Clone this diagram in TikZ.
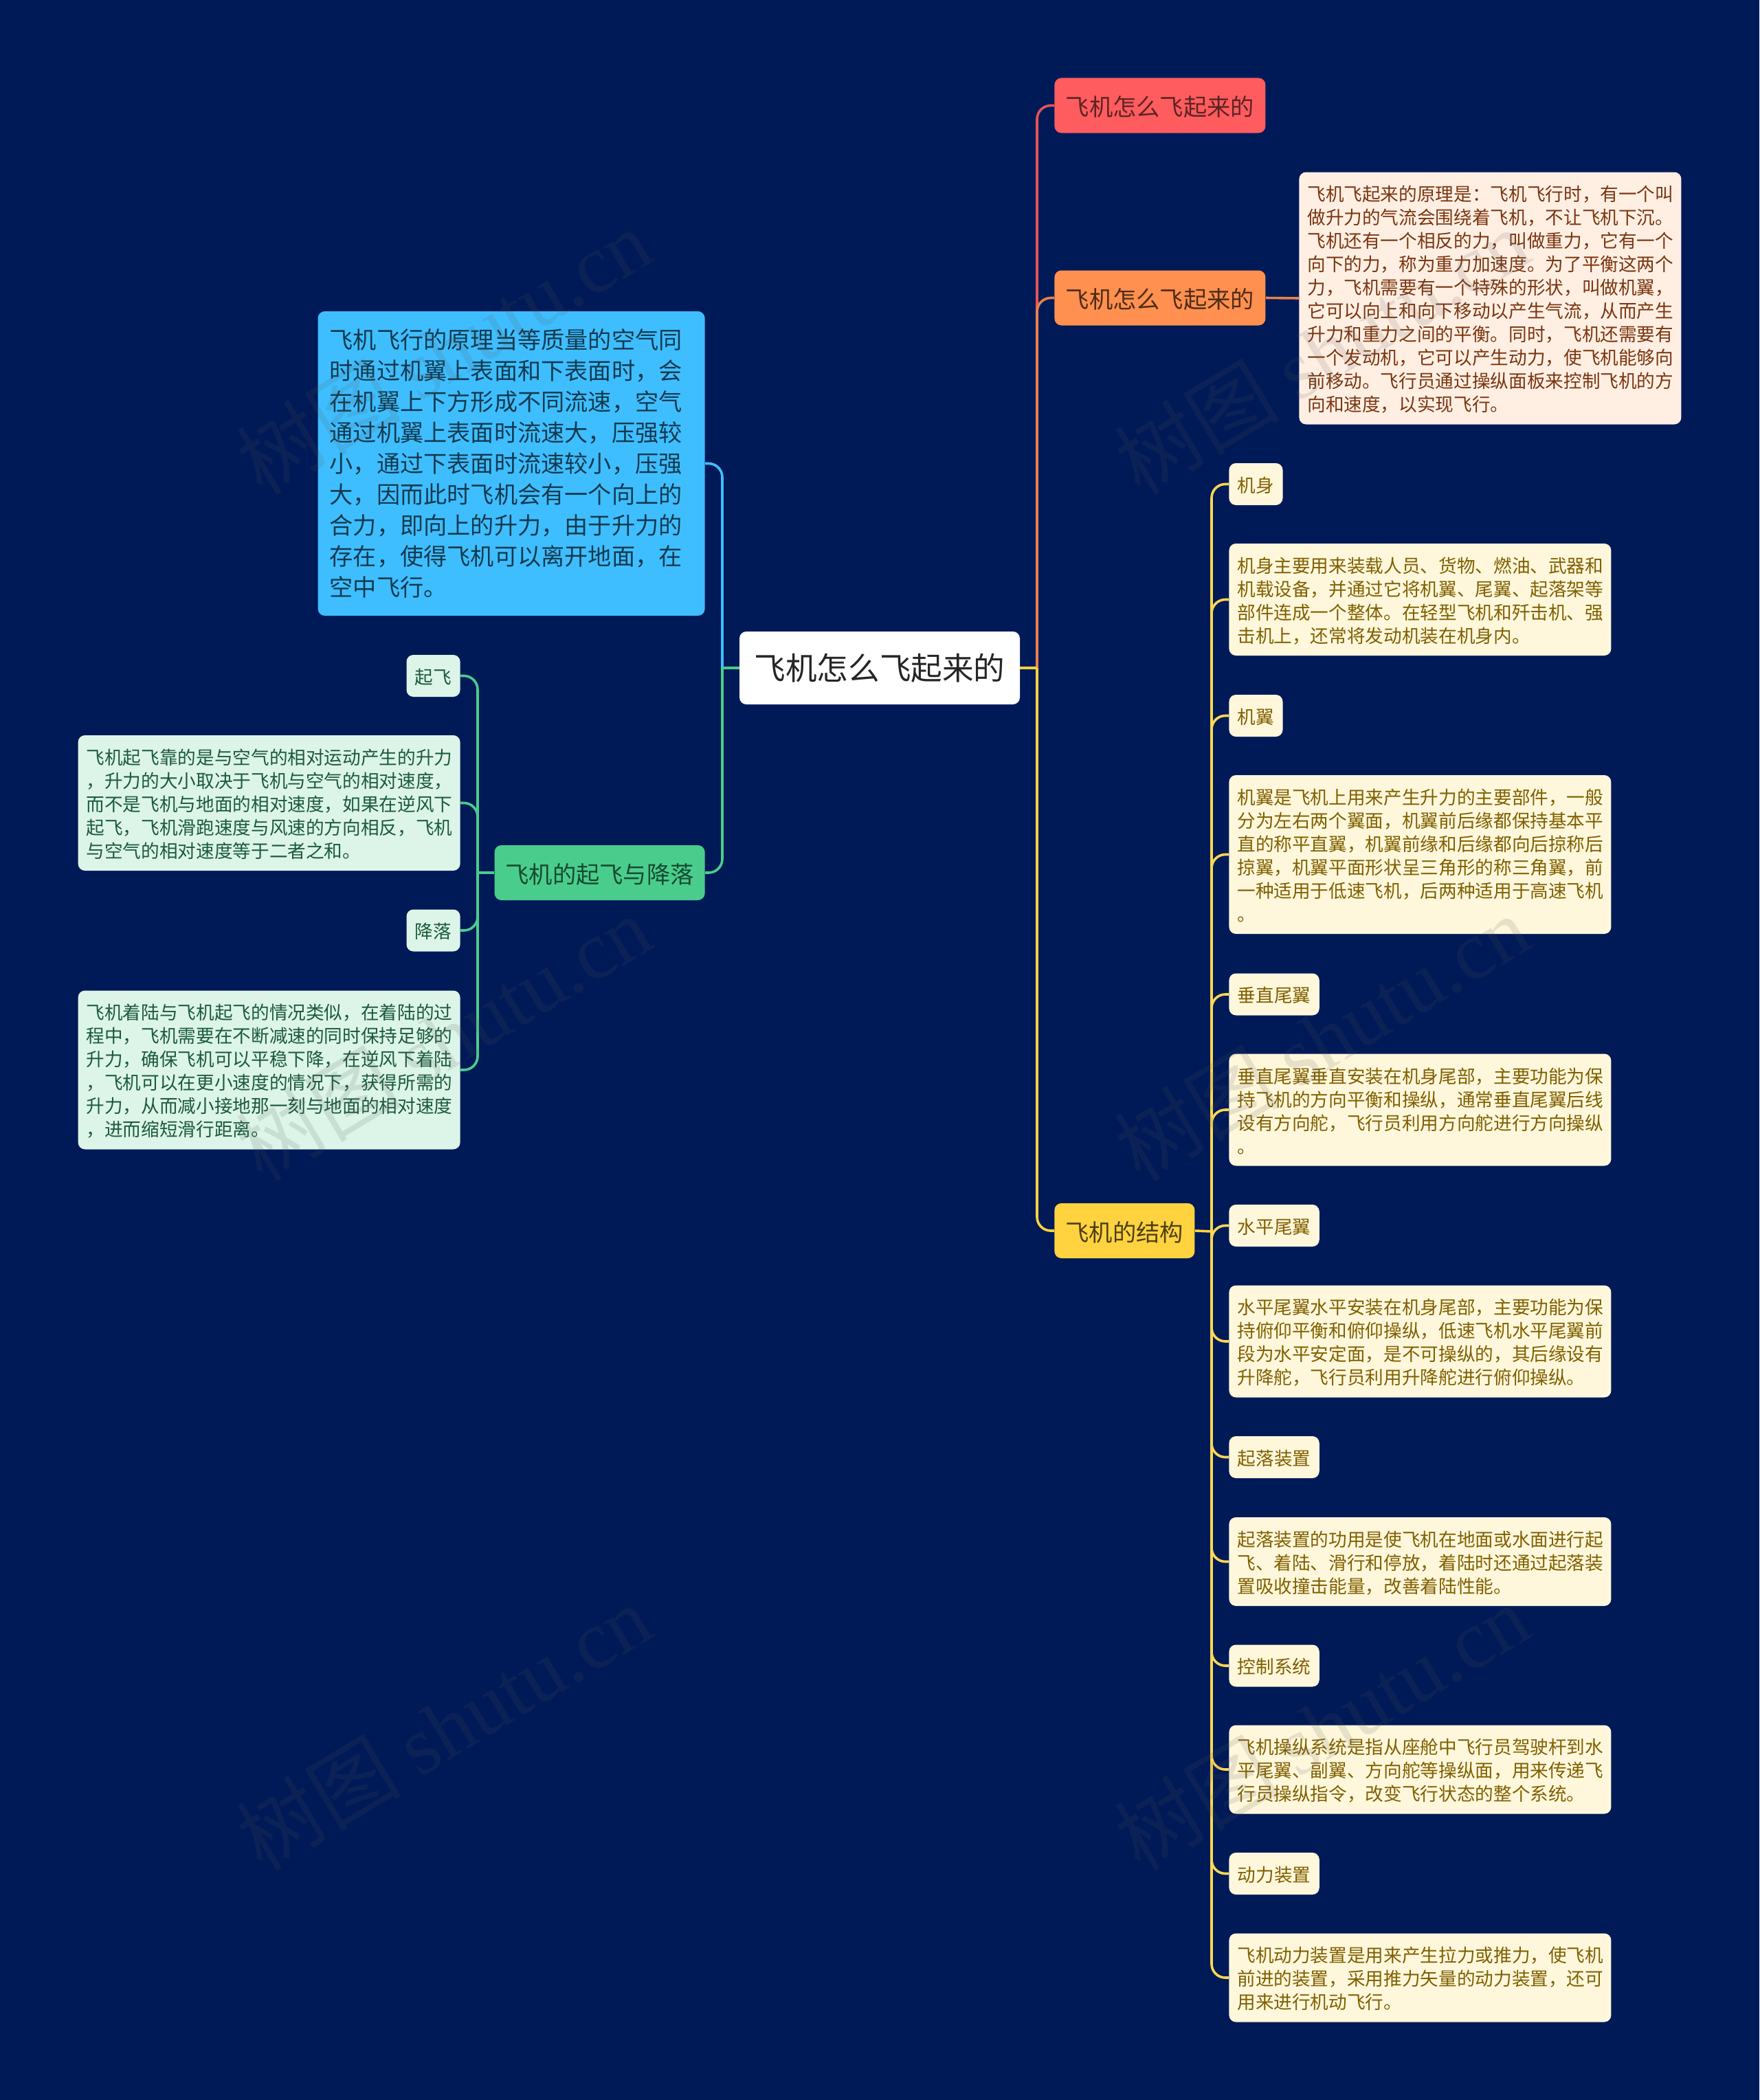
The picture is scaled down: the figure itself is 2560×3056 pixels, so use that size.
\documentclass[tikz,border=0pt]{standalone}
\usepackage{fontspec}
\setmainfont{Noto Sans CJK SC}
\newfontfamily\wmfont{Liberation Serif}
\usetikzlibrary{calc,positioning}

\definecolor{bgblue}{HTML}{001A57}
\definecolor{redfill}{HTML}{FF5C5F}
\definecolor{orangefill}{HTML}{FF9050}
\definecolor{yellowfill}{HTML}{FFD33F}
\definecolor{greenfill}{HTML}{4ACD8C}
\definecolor{bluefill}{HTML}{3FBEFF}
\definecolor{orangelight}{HTML}{FFEFE3}
\definecolor{yellowlight}{HTML}{FFF7DC}
\definecolor{greenlight}{HTML}{DCF5E8}
\definecolor{orangetext}{HTML}{7A3510}
\definecolor{yellowtext}{HTML}{7F6000}
\definecolor{greentext}{HTML}{1C5A3C}
\definecolor{reddark}{HTML}{5E2323}
\definecolor{orangedark}{HTML}{4F2C16}
\definecolor{yellowdark}{HTML}{4D3F13}
\definecolor{greendark}{HTML}{164A30}
\definecolor{bluedark}{HTML}{123A50}

\tikzset{
    boxbase/.style = {rounded corners=5pt, inner ysep=0pt, align=left},
    textdown/.style = {execute at begin node={\rule{0pt}{0.97em}}},
    lines/.style = {minimum height={(34*#1+27)*0.5pt}},
    mainfont/.style = {font=\fontsize{17.15}{22}\selectfont},
    smallfont/.style = {font=\fontsize{13.32}{17}\selectfont},
    rootnode/.style = {boxbase, fill=white, text=black!85, minimum width=204pt, minimum height=53pt, font=\fontsize{22.8}{28}\selectfont},
    mainnode/.style = {boxbase, textdown, mainfont, minimum width=#1, minimum height=40pt},
    tagnode/.style = {boxbase, textdown, smallfont, inner xsep=6.2pt, minimum height=30.5pt},
    longnode/.style = {boxbase, textdown, smallfont, inner xsep=6pt, text width=266pt},
    yellowtag/.style = {tagnode, fill=yellowlight, text=yellowtext, anchor=west},
    yellowlong/.style = {longnode, fill=yellowlight, text=yellowtext, anchor=west, lines=#1},
    greentag/.style = {tagnode, fill=greenlight, text=greentext, anchor=east},
    greenlong/.style = {longnode, fill=greenlight, text=greentext, anchor=east, lines=#1},
    link/.style = {line width=1.8pt, rounded corners=10pt, color=#1},
    watermark/.style = {rotate=31, opacity=0.14, text=gray!70!black, font=\fontsize{60}{60}\selectfont}
}

\begin{document}
\begin{tikzpicture}[x=0.5pt,y=-0.5pt]

    \fill[bgblue] (0,0) rectangle (2560,3056);

    % fork points
    \coordinate (rightfork) at (1509,972);
    \coordinate (leftfork) at (1051,972);
    \coordinate (greenfork) at (695,1270);
    \coordinate (yellowfork) at (1763,1792);

    \node[rootnode] (root) at (1280,972) {飞机怎么飞起来的};

    % right side
    \node[mainnode=153.5pt, fill=redfill, text=reddark, anchor=west] (redmain) at (1534,153.5) {飞机怎么飞起来的};
    \node[mainnode=153.5pt, fill=orangefill, text=orangedark, anchor=west] (orangemain) at (1534,433.5) {飞机怎么飞起来的};
    \node[mainnode=102pt, fill=yellowfill, text=yellowdark, anchor=west] (yellowmain) at (1534,1791) {飞机的结构};

    \node[longnode, fill=orangelight, text=orangetext, anchor=west, lines=10] (flytext) at (1890,434) {飞机飞起来的原理是：飞机飞行时，有一个叫\\做升力的气流会围绕着飞机，不让飞机下沉。\\飞机还有一个相反的力，叫做重力，它有一个\\向下的力，称为重力加速度。为了平衡这两个\\力，飞机需要有一个特殊的形状，叫做机翼，\\它可以向上和向下移动以产生气流，从而产生\\升力和重力之间的平衡。同时，飞机还需要有\\一个发动机，它可以产生动力，使飞机能够向\\前移动。飞行员通过操纵面板来控制飞机的方\\向和速度，以实现飞行。};

    \node[yellowtag] (bodytag) at (1788,704.5) {机身};
    \node[yellowlong=4] (bodytext) at (1788,872.5) {机身主要用来装载人员、货物、燃油、武器和\\机载设备，并通过它将机翼、尾翼、起落架等\\部件连成一个整体。在轻型飞机和歼击机、强\\击机上，还常将发动机装在机身内。};
    \node[yellowtag] (wingtag) at (1788,1041.5) {机翼};
    \node[yellowlong=6] (wingtext) at (1788,1243.5) {机翼是飞机上用来产生升力的主要部件，一般\\分为左右两个翼面，机翼前后缘都保持基本平\\直的称平直翼，机翼前缘和后缘都向后掠称后\\掠翼，机翼平面形状呈三角形的称三角翼，前\\一种适用于低速飞机，后两种适用于高速飞机\\。};
    \node[yellowtag] (vtailtag) at (1788,1447) {垂直尾翼};
    \node[yellowlong=4] (vtailtext) at (1788,1615) {垂直尾翼垂直安装在机身尾部，主要功能为保\\持飞机的方向平衡和操纵，通常垂直尾翼后线\\设有方向舵，飞行员利用方向舵进行方向操纵\\。};
    \node[yellowtag] (htailtag) at (1788,1783.5) {水平尾翼};
    \node[yellowlong=4] (htailtext) at (1788,1952) {水平尾翼水平安装在机身尾部，主要功能为保\\持俯仰平衡和俯仰操纵，低速飞机水平尾翼前\\段为水平安定面，是不可操纵的，其后缘设有\\升降舵，飞行员利用升降舵进行俯仰操纵。};
    \node[yellowtag] (geartag) at (1788,2120.5) {起落装置};
    \node[yellowlong=3] (geartext) at (1788,2272.5) {起落装置的功用是使飞机在地面或水面进行起\\飞、着陆、滑行和停放，着陆时还通过起落装\\置吸收撞击能量，改善着陆性能。};
    \node[yellowtag] (controltag) at (1788,2424) {控制系统};
    \node[yellowlong=3] (controltext) at (1788,2575) {飞机操纵系统是指从座舱中飞行员驾驶杆到水\\平尾翼、副翼、方向舵等操纵面，用来传递飞\\行员操纵指令，改变飞行状态的整个系统。};
    \node[yellowtag] (powertag) at (1788,2726.5) {动力装置};
    \node[yellowlong=3] (powertext) at (1788,2878) {飞机动力装置是用来产生拉力或推力，使飞机\\前进的装置，采用推力矢量的动力装置，还可\\用来进行机动飞行。};

    % left side
    \node[boxbase, fill=bluefill, text=bluedark, inner xsep=8.5pt, text width=264.5pt, minimum height=221.5pt, anchor=east, font=\fontsize{17.1}{22.5}\selectfont] (bluemain) at (1026,674.5) {飞机飞行的原理当等质量的空气同\\时通过机翼上表面和下表面时，会\\在机翼上下方形成不同流速，空气\\通过机翼上表面时流速大，压强较\\小，通过下表面时流速较小，压强\\大，因而此时飞机会有一个向上的\\合力，即向上的升力，由于升力的\\存在，使得飞机可以离开地面，在\\空中飞行。};
    \node[mainnode=153pt, fill=greenfill, text=greendark, anchor=east] (greenmain) at (1026,1270) {飞机的起飞与降落};

    \node[greentag] (takeofftag) at (670,983.5) {起飞};
    \node[greenlong=5] (takeofftext) at (670,1168.5) {飞机起飞靠的是与空气的相对运动产生的升力\\，升力的大小取决于飞机与空气的相对速度，\\而不是飞机与地面的相对速度，如果在逆风下\\起飞，飞机滑跑速度与风速的方向相反，飞机\\与空气的相对速度等于二者之和。};
    \node[greentag] (landtag) at (670,1354) {降落};
    \node[greenlong=6] (landtext) at (670,1557) {飞机着陆与飞机起飞的情况类似，在着陆的过\\程中，飞机需要在不断减速的同时保持足够的\\升力，确保飞机可以平稳下降，在逆风下着陆\\，飞机可以在更小速度的情况下，获得所需的\\升力，从而减小接地那一刻与地面的相对速度\\，进而缩短滑行距离。};

    % connectors
    \draw[link=redfill!90!black] (rightfork) |- (redmain.west);
    \draw[link=orangefill!90!black] (rightfork) |- (orangemain.west);
    \draw[link=yellowfill] (rightfork) |- (yellowmain.west);
    \draw[link=yellowfill] (root.east) -- (rightfork);
    \draw[link=orangefill!90!black] (orangemain.east) -- (flytext.west);

    \draw[link=bluefill] (leftfork) |- (bluemain.east);
    \draw[link=greenfill] (leftfork) |- (greenmain.east);
    \draw[link=greenfill] (root.west) -- (leftfork);

    \draw[link=yellowfill] (yellowmain.east) -- (yellowfork);
    \foreach \n in {bodytag,bodytext,wingtag,wingtext,vtailtag,vtailtext,htailtag,htailtext,geartag,geartext,controltag,controltext,powertag,powertext}
        \draw[link=yellowfill!90!white] (yellowfork) |- (\n.west);

    \draw[link=greenfill] (greenmain.west) -- (greenfork);
    \foreach \n in {takeofftag,takeofftext,landtag,landtext}
        \draw[link=greenfill] (greenfork) |- (\n.east);

    % watermark
    \foreach \wx in {645,1923}
        \foreach \wy in {511,1510,2513}
            \node[watermark] at (\wx,\wy) {树图 {\wmfont shutu.cn}};

\end{tikzpicture}
\end{document}
